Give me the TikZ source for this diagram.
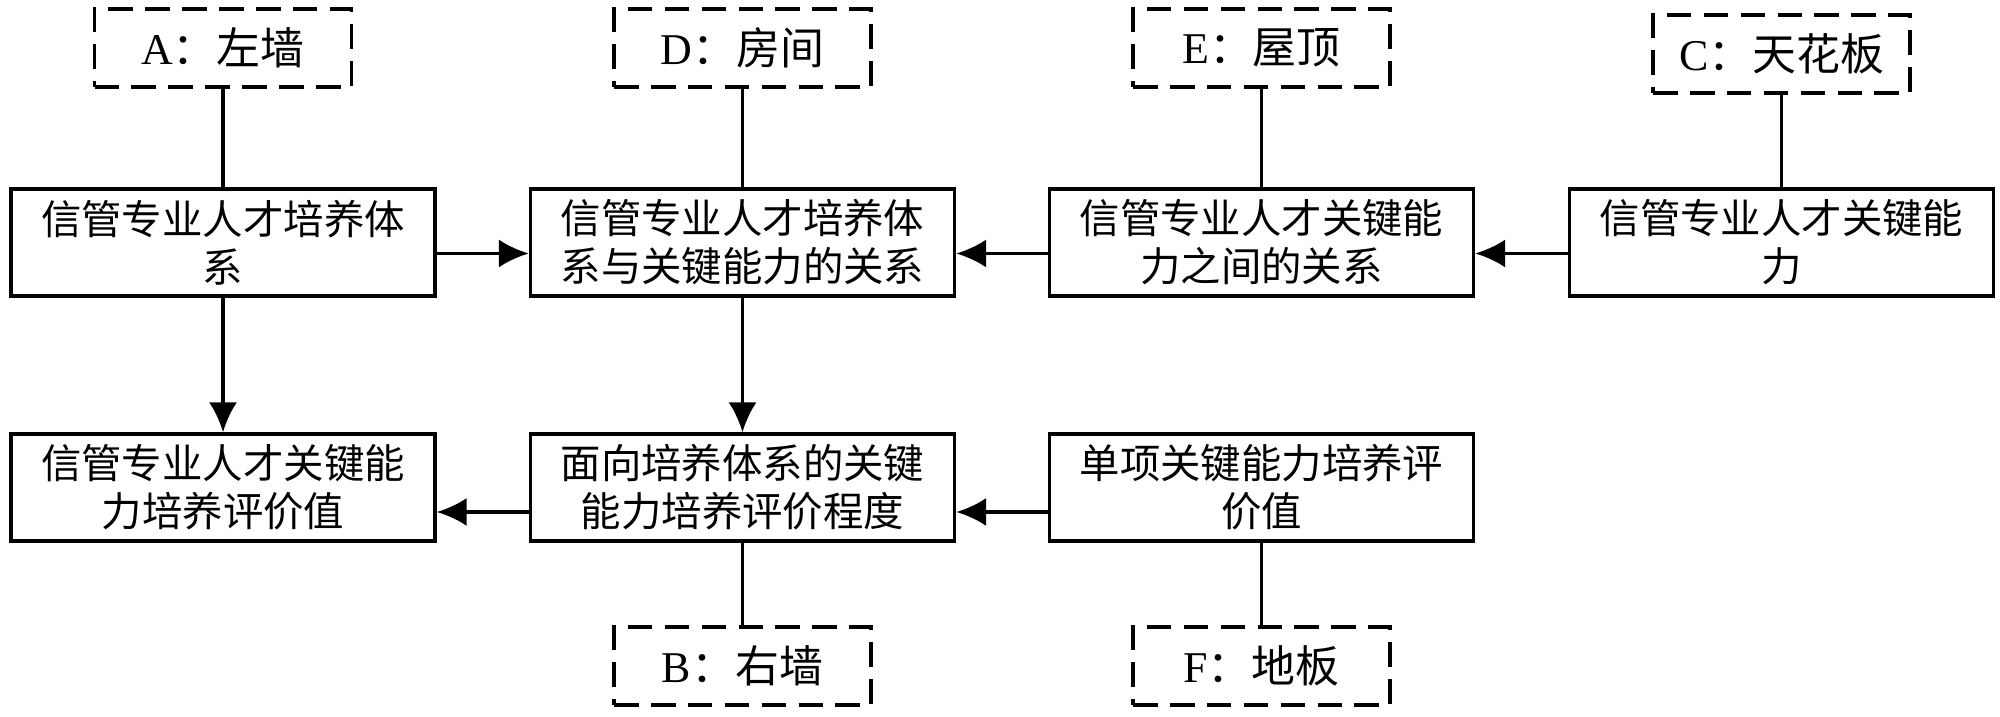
\documentclass[tikz,border=0pt]{standalone}
\usepackage{fontspec}
\setmainfont{Liberation Serif}
\newfontfamily\cjk{Noto Sans CJK SC}
\usepackage{tikz}
\usetikzlibrary{arrows.meta}
\tikzset{>={Latex[length=8.5pt, width=8pt]}}
\tikzset{
    block/.style={draw, line width=1pt, minimum width=4.24cm, minimum height=1.07cm,
        inner sep=0pt, align=center, font=\cjk\fontsize{11.5}{13.7}\selectfont},
    wall/.style={draw, line width=1pt, dash pattern=on 7pt off 3.5pt,
        minimum width=2.57cm, minimum height=0.78cm, inner sep=0pt,
        font=\cjk\fontsize{12.5}{15}\selectfont},
    link/.style={line width=0.95pt}
}

\begin{document}
\begin{tikzpicture}
    \useasboundingbox(0, 0)rectangle(20, 7.17);
    % main boxes
    \node[block](sys) at(2.23, 4.745){信管专业人才培养体\\系};
    \node[block](sysab) at(7.425, 4.745){信管专业人才培养体\\系与关键能力的关系};
    \node[block](abab) at(12.615, 4.745){信管专业人才关键能\\力之间的关系};
    \node[block](ab) at(17.815, 4.745){信管专业人才关键能\\力};
    \node[block](val) at(2.23, 2.295){信管专业人才关键能\\力培养评价值};
    \node[block](deg) at(7.425, 2.295){面向培养体系的关键\\能力培养评价程度};
    \node[block](single) at(12.615, 2.295){单项关键能力培养评\\价值};
    % dashed labels
    \node[wall](A) at(2.23, 6.69){{\rmfamily A}：左墙};
    \node[wall](D) at(7.425, 6.69){{\rmfamily D}：房间};
    \node[wall](E) at(12.615, 6.69){{\rmfamily E}：屋顶};
    \node[wall](C) at(17.815, 6.63){{\rmfamily C}：天花板};
    \node[wall](B) at(7.425, 0.51){{\rmfamily B}：右墙};
    \node[wall](F) at(12.615, 0.51){{\rmfamily F}：地板};
    % connectors
    \draw[link](A)--(sys);
    \draw[link](D)--(sysab);
    \draw[link](E)--(abab);
    \draw[link](C)--(ab);
    \draw[link](deg)--(B);
    \draw[link](single)--(F);
    \draw[link, ->](sys)--(val);
    \draw[link, ->](sysab)--(deg);
    \draw[link, ->]([yshift=-0.11cm]sys.east)--([yshift=-0.11cm]sysab.west);
    \draw[link, ->]([yshift=-0.11cm]abab.west)--([yshift=-0.11cm]sysab.east);
    \draw[link, ->]([yshift=-0.11cm]ab.west)--([yshift=-0.11cm]abab.east);
    \draw[link, ->]([yshift=-0.245cm]deg.west)--([yshift=-0.245cm]val.east);
    \draw[link, ->]([yshift=-0.245cm]single.west)--([yshift=-0.245cm]deg.east);
\end{tikzpicture}
\end{document}
